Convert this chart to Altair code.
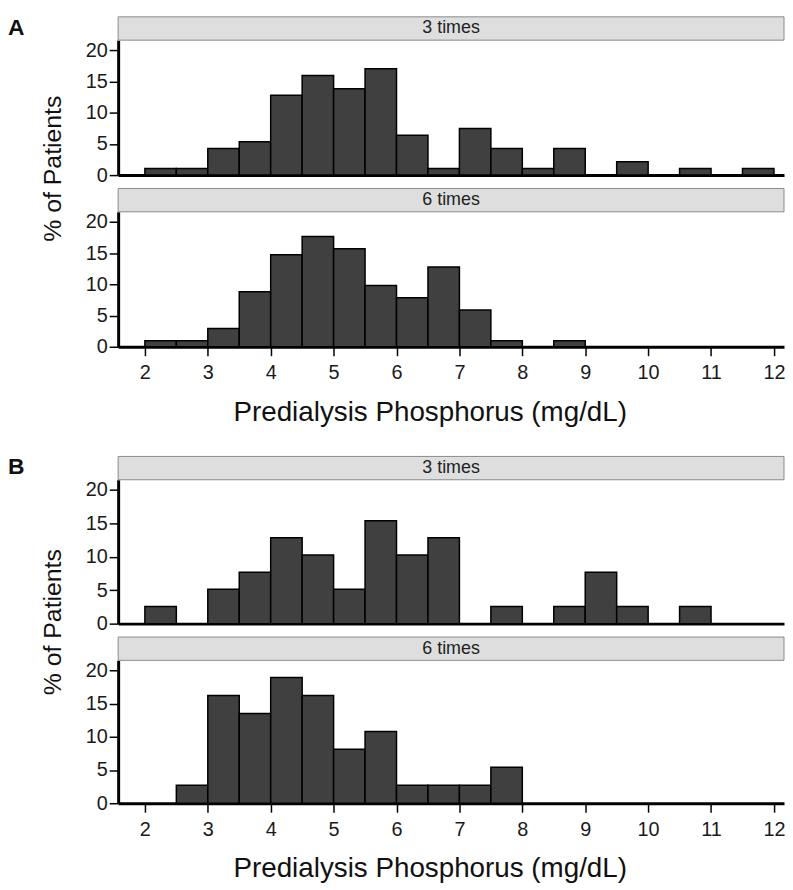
import altair as alt
import pandas as pd

# ---- data ----
bin_lo = [2.0, 2.5, 3.0, 3.5, 4.0, 4.5, 5.0, 5.5, 6.0, 6.5,
          7.0, 7.5, 8.0, 8.5, 9.0, 9.5, 10.0, 10.5, 11.0, 11.5]
bin_hi = [2.5, 3.0, 3.5, 4.0, 4.5, 5.0, 5.5, 6.0, 6.5, 7.0,
          7.5, 8.0, 8.5, 9.0, 9.5, 10.0, 10.5, 11.0, 11.5, 12.0]

a_3times = [1.06, 1.06, 4.26, 5.32, 12.77, 15.96, 13.83, 17.02, 6.38, 1.06,
            7.45, 4.26, 1.06, 4.26, 0, 2.13, 0, 1.06, 0, 1.06]
a_6times = [0.98, 0.98, 2.94, 8.82, 14.71, 17.65, 15.69, 9.80, 7.84, 12.75,
            5.88, 0.98, 0, 0.98, 0, 0, 0, 0, 0, 0]
b_3times = [2.56, 0, 5.13, 7.69, 12.82, 10.26, 5.13, 15.38, 10.26, 12.82,
            0, 2.56, 0, 2.56, 7.69, 2.56, 0, 2.56, 0, 0]
b_6times = [0, 2.70, 16.22, 13.51, 18.92, 16.22, 8.11, 10.81, 2.70, 2.70,
            2.70, 5.41, 0, 0, 0, 0, 0, 0, 0, 0]

x_ticks = [2, 3, 4, 5, 6, 7, 8, 9, 10, 11, 12]
y_ticks = [0, 5, 10, 15, 20]
strip_labels = ["3 times", "6 times"]
group_letters = ["A", "B"]
x_title = "Predialysis Phosphorus (mg/dL)"
y_title = "% of Patients"

FONT = "Liberation Sans"
W = 671
STRIP = 23.5
XDOM = [1.575, 12.16]
NOVIEW = alt.ViewBackground(stroke="transparent", strokeWidth=0)


def panel(values, label, height, ymax, bottom, letter=None, ytitle_y=None):
    df = pd.DataFrame({"lo": bin_lo, "hi": bin_hi, "pct": values})
    if bottom:
        xaxis = alt.Axis(values=x_ticks, title=x_title, grid=False,
                         domain=True, domainWidth=3, domainColor="#000000",
                         ticks=True, tickSize=9, tickWidth=1.5, tickColor="#000000",
                         labels=True, labelFont=FONT, labelFontSize=20,
                         labelColor="#1a1a1a", labelPadding=7,
                         titleFont=FONT, titleFontSize=28, titleFontWeight="normal",
                         titleColor="#111111", titleX=314, titleY=74,
                         titleAlign="center", titleBaseline="alphabetic")
    else:
        xaxis = alt.Axis(title=None, grid=False, labels=False, ticks=False,
                         domain=True, domainWidth=3, domainColor="#000000")
    yargs = dict(values=y_ticks, grid=False, domain=True, domainWidth=3,
                 domainColor="#000000", ticks=True, tickSize=9, tickWidth=1.5,
                 tickColor="#000000", labelFont=FONT, labelFontSize=20,
                 labelColor="#1a1a1a", labelPadding=2)
    if ytitle_y is not None:
        yaxis = alt.Axis(title=y_title, titleFont=FONT, titleFontSize=25,
                         titleFontWeight="normal", titleColor="#111111",
                         titleAngle=270, titleX=-58, titleY=ytitle_y,
                         titleAlign="center", titleBaseline="alphabetic", **yargs)
    else:
        yaxis = alt.Axis(title=None, **yargs)

    bars = alt.Chart(df).transform_filter("datum.pct > 0").mark_bar(
        fill="#404040", stroke="#000000", strokeWidth=1.5
    ).encode(
        x=alt.X("lo:Q", scale=alt.Scale(domain=XDOM, nice=False, zero=False), axis=xaxis),
        x2="hi:Q",
        y=alt.Y("pct:Q", scale=alt.Scale(domain=[0, ymax], nice=False), axis=yaxis),
        y2=alt.datum(0),
    )
    one = pd.DataFrame({"t": [label]})
    strip = alt.Chart(one).mark_rect(
        fill="#dedede", stroke="#8a8a8a", strokeWidth=1
    ).encode(x=alt.value(0), x2=alt.value(W), y=alt.value(-STRIP), y2=alt.value(0))
    strip_text = alt.Chart(one).mark_text(
        font=FONT, fontSize=18, color="#222222", align="center", baseline="middle"
    ).encode(x=alt.value(W / 2), y=alt.value(-STRIP / 2), text="t:N")
    layers = [strip, strip_text, bars]
    if letter is not None:
        lt = pd.DataFrame({"t": [letter]})
        layers.append(
            alt.Chart(lt).mark_text(
                font=FONT, fontSize=23, fontWeight="bold", color="#111111",
                align="left", baseline="middle"
            ).encode(x=alt.value(-111), y=alt.value(-12.5), text="t:N")
        )
    return alt.layer(*layers).properties(width=W, height=height, view=NOVIEW)


spacer = alt.layer(
    alt.Chart(pd.DataFrame({"t": [""]})).mark_text(opacity=0).encode(
        x=alt.value(0), y=alt.value(0), text="t:N"
    )
).properties(width=W, height=60, view=NOVIEW)

p1 = panel(a_3times, strip_labels[0], 136, 21.6, False, group_letters[0], 129)
p2 = panel(a_6times, strip_labels[1], 136, 21.6, True)
p3 = panel(b_3times, strip_labels[0], 145, 21.5, False, group_letters[1], 143)
p4 = panel(b_6times, strip_labels[1], 144, 21.5, True)

chart = alt.vconcat(p1, p2, spacer, p3, p4, spacing=37, bounds="flush").properties(
    padding={"left": 0, "top": 5, "right": 0, "bottom": 0}
).configure_view(stroke="transparent", strokeWidth=0).configure(background="white")

chart.save("out.html", embed_options={"renderer": "svg", "actions": False})
